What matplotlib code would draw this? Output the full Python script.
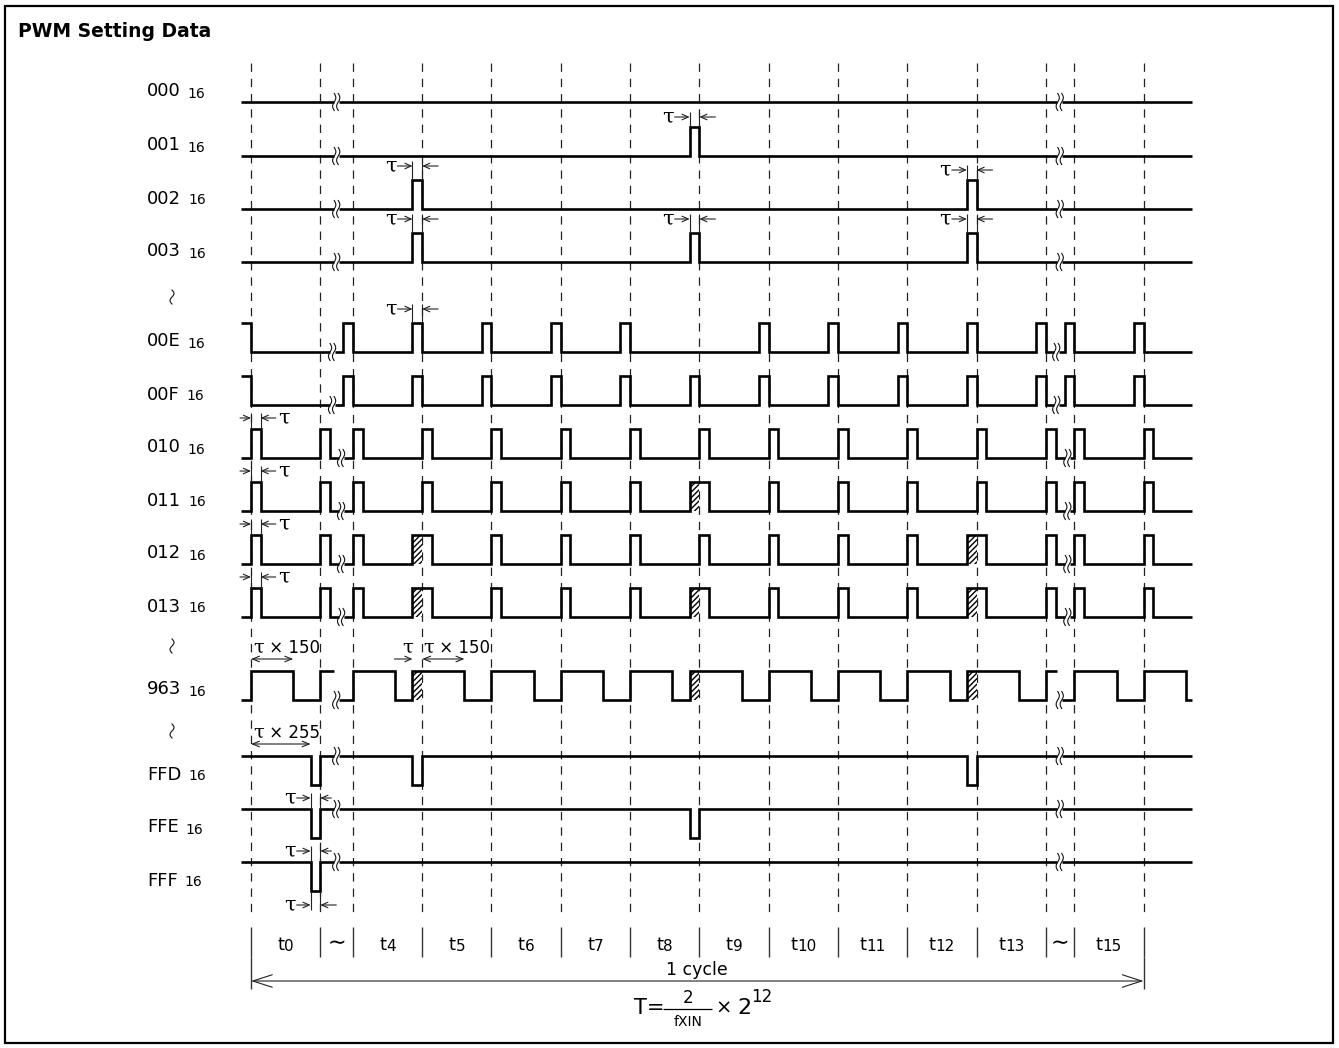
import numpy as np
import matplotlib
matplotlib.use("Agg")
import matplotlib.pyplot as plt
from matplotlib.patches import Rectangle, FancyArrowPatch

plt.rcParams['font.family'] = ['DejaVu Sans']
plt.rcParams['lines.scale_dashes'] = False
plt.rcParams['hatch.linewidth'] = 1.0
plt.rcParams['hatch.color'] = 'black'

# ---------------- data ----------------
SLOT_LABELS = ["t0", "~", "t4", "t5", "t6", "t7", "t8", "t9", "t10", "t11", "t12", "t13", "~", "t15"]
SLOT_WIDTHS = [1.0, 0.47, 1.0, 1.0, 1.0, 1.0, 1.0, 1.0, 1.0, 1.0, 1.0, 1.0, 0.41, 1.0]
ROW_CODES = ["000", "001", "002", "003", "00E", "00F", "010", "011", "012", "013",
             "963", "FFD", "FFE", "FFF"]
ROW_BASE_LEVEL = [0, 0, 0, 0, 0, 0, 0, 0, 0, 0, 0, 1, 1, 1]
TAU = 0.14          # one tau, in slot units
W150 = 0.61         # tau x 150
W255 = 0.86         # tau x 255
ALL_EDGES = [0, 1, 2, 3, 4, 5, 6, 7, 8, 9, 10, 11, 12, 13, 14]
PULSE_BEFORE = {"001": [7], "002": [3, 11], "003": [3, 7, 11],
                "00E": [0, 2, 3, 4, 5, 6, 8, 9, 10, 11, 12, 13, 14],
                "00F": [0, 2, 3, 4, 5, 6, 7, 8, 9, 10, 11, 12, 13, 14]}
PULSE_AFTER = {"010": ALL_EDGES, "011": ALL_EDGES, "012": ALL_EDGES, "013": ALL_EDGES}
HIGH150_AFTER = {"963": ALL_EDGES}
HATCH_BEFORE = {"011": [7], "012": [3, 11], "013": [3, 7, 11], "963": [3, 7, 11]}
DIP_BEFORE = {"FFD": [1, 3, 11], "FFE": [1, 7], "FFF": [1]}

# ---------------- layout ----------------
W, H = 1339, 1048
SLOT_PX = 69.3
ORIGIN_PX = 251
PX = 1.0 / SLOT_PX


def xd(px):
    return (px - ORIGIN_PX) * PX


ROW_Y = [102, 156, 209, 262, 352, 405, 458, 511, 564, 617, 700, 785, 838, 891]
AMP = 29
X_START = -TAU
X_END = xd(1192)
BRK1 = {"00E": 1.17, "00F": 1.17, "010": 1.30, "011": 1.30, "012": 1.30, "013": 1.30}
BRK2 = {"00E": 11.62, "00F": 11.62, "010": 11.78, "011": 11.78, "012": 11.78, "013": 11.78}
BRK_GAP = 2.5 * PX
INK = '#111111'

fig = plt.figure(figsize=(W / 100, H / 100), dpi=100)
ax = fig.add_axes([0, 0, 1, 1])
ax.set_xlim(xd(0), xd(W))
ax.set_ylim(H, 0)
ax.axis('off')

B = np.concatenate([[0.0], np.cumsum(SLOT_WIDTHS)])

# frame and title
ax.add_patch(Rectangle((xd(5), 6), xd(1333) - xd(5), 1037, fill=False, lw=1.6,
                       edgecolor='black', zorder=5))
ax.text(xd(18), 37, "PWM Setting Data", fontsize=13.5, fontweight='bold',
        ha='left', va='baseline')

# dashed boundary lines
ax.vlines(B, 63, 918, colors='#222222', lw=0.9, linestyles=[(0, (6, 5))], zorder=1)


def wiggle(xc, yc, h=8.5, a=1.6, pair=True):
    s = np.linspace(-1, 1, 40)
    offs = [-2.0, 2.0] if pair else [0.0]
    for o in offs:
        ax.plot(xc + (o - a * np.sin(np.pi * s)) * PX, yc + h * s, color=INK, lw=0.8, zorder=4)


def level_fn(ivs, base):
    def lev(x):
        return base ^ int(any(a <= x < b for a, b in ivs))
    return lev


def build(ivs, lev, xa, xb):
    pts = sorted({p for iv in ivs for p in iv if xa < p < xb})
    xs, ls = [xa], [lev(xa + 1e-9)]
    for p in pts:
        l0, l1 = lev(p - 1e-9), lev(p + 1e-9)
        if l0 != l1:
            xs += [p, p]
            ls += [l0, l1]
    xs.append(xb)
    ls.append(lev(xb - 1e-9))
    return np.array(xs), np.array(ls)


for code, base, ylo in zip(ROW_CODES, ROW_BASE_LEVEL, ROW_Y):
    b1 = BRK1.get(code, 1.23)
    b2 = BRK2.get(code, 11.67)
    ivs = []
    for i in PULSE_BEFORE.get(code, []):
        ivs.append((B[i] - TAU, B[i]))
    for i in PULSE_AFTER.get(code, []):
        ivs.append((B[i], B[i] + TAU))
    for i in HIGH150_AFTER.get(code, []):
        ivs.append((B[i], B[i] + W150))
    for i in HATCH_BEFORE.get(code, []):
        ivs.append((B[i] - TAU, B[i]))
    for i in DIP_BEFORE.get(code, []):
        ivs.append((B[i] - TAU, B[i]))
    clipped = []
    for a, b in ivs:
        for brk in (b1, b2):
            if a < brk < b:
                b = brk
        clipped.append((a, b))
    lev = level_fn(clipped, base)
    for xa, xb in [(X_START, b1 - BRK_GAP), (b1 + BRK_GAP, b2 - BRK_GAP), (b2 + BRK_GAP, X_END)]:
        xs, ls = build(clipped, lev, xa, xb)
        ax.plot(xs, ylo - AMP * ls, color='black', lw=1.9, solid_joinstyle='miter',
                solid_capstyle='butt', zorder=3)
    for brk in (b1, b2):
        wiggle(brk, ylo - AMP * lev(brk + BRK_GAP + 1e-6))
    for i in HATCH_BEFORE.get(code, []):
        ax.add_patch(Rectangle((B[i] - TAU, ylo - AMP), TAU, AMP, facecolor='white',
                               edgecolor='black', hatch='//////', lw=0, zorder=2))
    # row label
    t1 = ax.text(xd(147), ylo - 5.5, code, fontsize=13, ha='left', va='baseline')
    ax.annotate("16", xy=(1, 0), xycoords=t1, xytext=(7, 0), textcoords='offset pixels',
                fontsize=10, ha='left', va='bottom')

# row-gap marks at the left
for yc in (297, 646, 731):
    wiggle(xd(172), yc, h=7.0, a=2.0, pair=False)


def arr(x0, x1, y, style="->", hl=4.5, hw=2.0, lw=0.8):
    ax.add_patch(FancyArrowPatch((x0, y), (x1, y),
                                 arrowstyle=f"{style},head_length={hl},head_width={hw}",
                                 mutation_scale=1, lw=lw, color='#222222',
                                 shrinkA=0, shrinkB=0, zorder=4))


def tau_text(x, y, ha):
    ax.text(x, y, "τ", fontsize=15, family='DejaVu Serif', ha=ha, va='center')


def tau_mark(e1, e2, y, yedge, side='left', l1=14, l2=15):
    for e in (e1, e2):
        if yedge > y:
            ax.vlines(e, y - 5, yedge, colors='#222222', lw=0.8, zorder=4)
        else:
            ax.vlines(e, yedge, y + 5, colors='#222222', lw=0.8, zorder=4)
    arr(e1 - l1 * PX, e1, y)
    arr(e2 + l2 * PX, e2, y)
    if side == 'left':
        tau_text(e1 - (l1 + 1) * PX, y, 'right')
    else:
        tau_text(e2 + (l2 + 2) * PX, y, 'left')


ry = dict(zip(ROW_CODES, ROW_Y))
# tau marks above short pulses ending on a boundary
for code, i, off in [("001", 7, 10), ("002", 3, 14), ("002", 11, 10), ("003", 3, 14),
                     ("003", 7, 14), ("003", 11, 14), ("00E", 3, 14)]:
    yhi = ry[code] - AMP
    tau_mark(B[i] - TAU, B[i], yhi - off, yhi, 'left', 15, 16)
# tau marks at the first pulse of 010..013
for code in ["010", "011", "012", "013"]:
    yhi = ry[code] - AMP
    tau_mark(B[0], B[0] + TAU, yhi - 11, yhi, 'right', 11, 15)
# tau marks at the dips of FFE / FFF
for code in ["FFE", "FFF"]:
    yhi = ry[code] - AMP
    tau_mark(B[1] - TAU, B[1], yhi - 11, yhi, 'left', 14, 11)
tau_mark(B[1] - TAU, B[1], ry["FFF"] + 14, ry["FFF"], 'left', 14, 16)


def rich(x, y, parts):
    prev = None
    for txt, fam, size in parts:
        if prev is None:
            prev = ax.text(x, y, txt, fontsize=size, family=fam, ha='left', va='baseline')
        else:
            prev = ax.annotate(txt, xy=(1, 0), xycoords=prev, xytext=(0, 0),
                               textcoords='offset pixels', fontsize=size, family=fam,
                               ha='left', va='bottom')
    return prev


# tau x 150 (963)
y963 = ry["963"] - AMP
arr(B[0], B[0] + W150, y963 - 12, "<->", 5, 2.0)
rich(B[0] + 2 * PX, y963 - 18, [("τ", 'DejaVu Serif', 14), (" × 150", 'DejaVu Sans', 12)])
arr(B[3] - TAU - 18 * PX, B[3] - TAU, y963 - 12)
ax.text(B[3] - TAU - 5 * PX, y963 - 18, "τ", fontsize=14, family='DejaVu Serif',
        ha='center', va='baseline')
arr(B[3], B[3] + W150, y963 - 12, "<->", 5, 2.0)
rich(B[3] + 1 * PX, y963 - 18, [("τ", 'DejaVu Serif', 14), (" × 150", 'DejaVu Sans', 12)])

# tau x 255 (FFD)
yffd = ry["FFD"] - AMP
arr(B[0], B[0] + W255, yffd - 12, "<->", 5, 2.0)
rich(B[0] + 2 * PX, yffd - 18, [("τ", 'DejaVu Serif', 14), (" × 255", 'DejaVu Sans', 12)])

# bottom slot labels
ax.vlines(B, 927, 957, colors='#333333', lw=1.0)
ax.vlines([B[0], B[-1]], 957, 989, colors='#333333', lw=1.0)
for lab, a, b in zip(SLOT_LABELS, B[:-1], B[1:]):
    c = (a + b) / 2
    if lab == "~":
        ax.text(c, 943, "∼", fontsize=16, ha='center', va='center')
    else:
        nd = len(lab) - 1
        wt = 0.392 * 13 * 100 / 72
        wdig = 0.636 * 11 * 100 / 72 * nd
        tt = ax.text(c + (wt - wdig) / 2 * PX, 950, "t", fontsize=13, ha='right', va='baseline')
        ax.annotate(lab[1:], xy=(1, 0), xycoords=tt, xytext=(0, 0),
                    textcoords='offset pixels', fontsize=11, ha='left', va='bottom')

# 1 cycle arrow
arr(B[0], B[-1], 981, "<->", 14, 4.5, 0.8)
ax.text(xd(697), 975, "1 cycle", fontsize=12.5, ha='center', va='baseline')

# period formula
ax.text(xd(634), 1014, "T=", fontsize=15, ha='left', va='baseline')
ax.text(xd(688), 1003, "2", fontsize=12, ha='center', va='baseline')
ax.hlines(1009, xd(663), xd(712), colors='black', lw=0.9)
ax.text(xd(688), 1026, "fXIN", fontsize=10, ha='center', va='baseline')
ax.text(xd(723.5), 1008, "×", fontsize=14, ha='center', va='center')
ax.text(xd(737), 1014, "2", fontsize=16, ha='left', va='baseline')
ax.text(xd(751), 1001.5, "12", fontsize=12, ha='left', va='baseline')

fig.savefig("out.png", dpi=100)
